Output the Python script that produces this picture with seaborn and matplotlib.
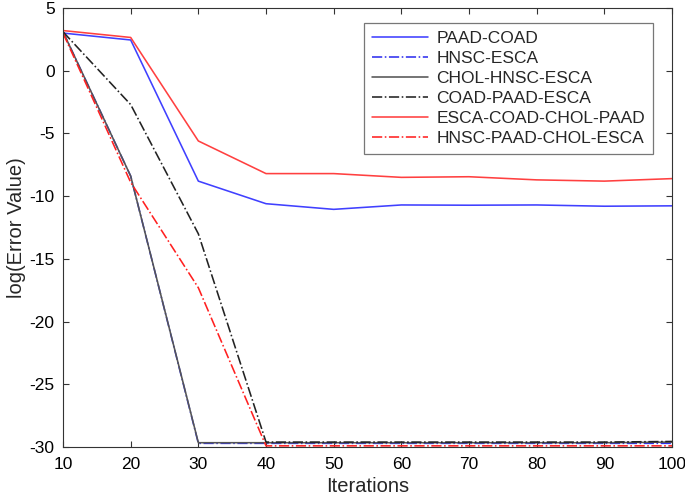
import numpy as np
import pandas as pd
import matplotlib
matplotlib.use("Agg")
import matplotlib.pyplot as plt
import seaborn as sns

# iterations on the x axis
iterations = [10, 20, 30, 40, 50, 60, 70, 80, 90, 100]

# log(error) per combination
paad_coad = [3.0, 2.45, -8.8, -10.6, -11.05, -10.7, -10.72, -10.7, -10.8, -10.77]
hnsc_esca = [3.1, -8.4, -29.7, -29.7, -29.7, -29.7, -29.7, -29.7, -29.7, -29.7]
chol_hnsc_esca = [3.1, -8.4, -29.65, -29.65, -29.65, -29.65, -29.65, -29.65, -29.65, -29.6]
coad_paad_esca = [3.1, -2.7, -13.0, -29.6, -29.6, -29.6, -29.6, -29.6, -29.6, -29.55]
esca_coad_chol_paad = [3.2, 2.65, -5.6, -8.2, -8.2, -8.5, -8.45, -8.7, -8.8, -8.6]
hnsc_paad_chol_esca = [3.0, -8.9, -17.3, -29.9, -29.9, -29.9, -29.9, -29.9, -29.9, -29.9]

labels = ["PAAD-COAD", "HNSC-ESCA", "CHOL-HNSC-ESCA", "COAD-PAAD-ESCA",
          "ESCA-COAD-CHOL-PAAD", "HNSC-PAAD-CHOL-ESCA"]
series = [paad_coad, hnsc_esca, chol_hnsc_esca, coad_paad_esca,
          esca_coad_chol_paad, hnsc_paad_chol_esca]
colors = ["#4040ff", "#3030ee", "#555555", "#222222", "#ff4040", "#ff2020"]
styles = ["-", "-.", "-", "-.", "-", "-."]

sns.set_theme(style="white")
plt.rcParams['font.family'] = ['Liberation Sans', 'DejaVu Sans']
plt.rcParams['axes.unicode_minus'] = False

fig = plt.figure(figsize=(6.85, 4.99), dpi=100)
ax = fig.add_axes([0.092, 0.104, 0.889, 0.880])

for lab, vals, c, ls in zip(labels, series, colors, styles):
    df = pd.DataFrame({"Iterations": iterations, "value": vals})
    sns.lineplot(data=df, x="Iterations", y="value", ax=ax, color=c,
                 linestyle=ls, linewidth=1.15, label=lab)

ax.set_xlim(10, 100)
ax.set_ylim(-30, 5)
ax.set_xticks(np.arange(10, 101, 10))
ax.set_yticks(np.arange(-30, 6, 5))
ax.set_xlabel("Iterations", fontsize=14.5, labelpad=4)
ax.set_ylabel("log(Error Value)", fontsize=14.5)
ax.yaxis.set_label_coords(-0.06, 0.5)
ax.tick_params(axis="both", direction="in", length=4, width=0.8, labelsize=12.5,
               top=True, right=True, bottom=True, left=True, color="#333333",
               labelcolor="black")
ax.tick_params(axis="x", pad=7)
ax.tick_params(axis="y", pad=6)
for sp in ax.spines.values():
    sp.set_color("#333333")
    sp.set_linewidth(0.8)

leg = ax.legend(loc="upper right", bbox_to_anchor=(0.969, 0.966), fontsize=12.5,
                frameon=True, fancybox=False, handlelength=3.2, borderpad=0.45,
                labelspacing=0.28, handletextpad=0.5, borderaxespad=0.0)
leg.get_frame().set_edgecolor("#555555")
leg.get_frame().set_linewidth(0.9)

fig.savefig("out.png", dpi=100)
